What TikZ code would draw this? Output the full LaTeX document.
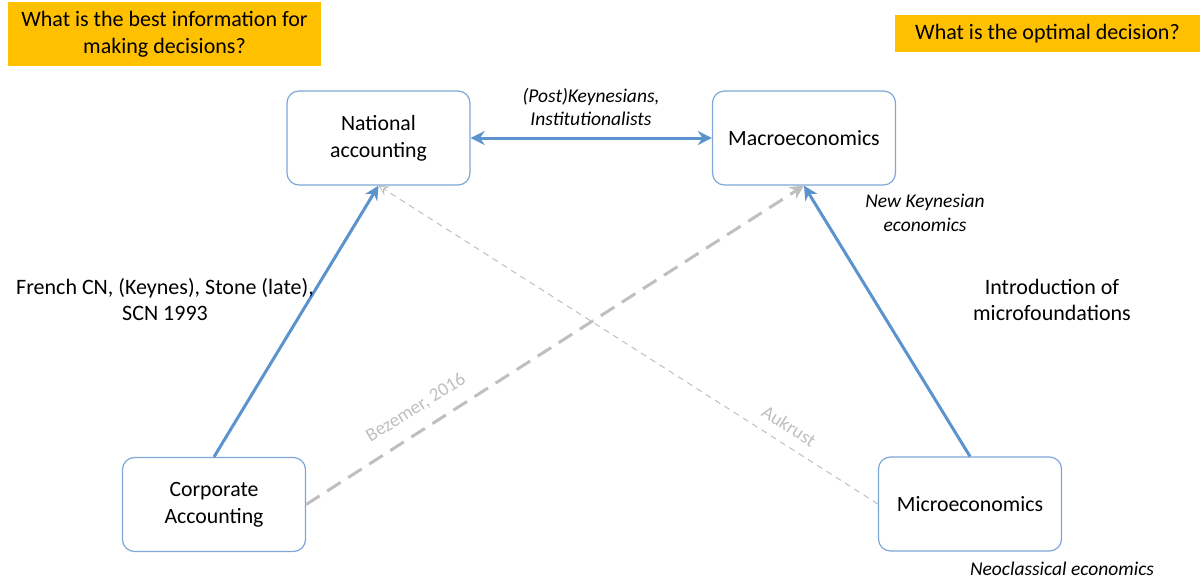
\documentclass[tikz,border=0pt]{standalone}
\usepackage{fontspec}
\setmainfont{Carlito}
\usetikzlibrary{arrows.meta}
\definecolor{gold}{HTML}{FFC000}
\definecolor{boxblue}{HTML}{7EA6D8}
\definecolor{lineblue}{HTML}{5B93CD}
\definecolor{lgray}{HTML}{BFBFBF}
\begin{document}
\begin{tikzpicture}[x=1pt,y=-1pt,
  box/.style={draw=boxblue,line width=1.2pt,rounded corners=12pt,fill=white,minimum width=183pt,minimum height=94pt,align=center,font=\fontsize{21.8}{27}\selectfont},
  q/.style={fill=gold,align=center,font=\fontsize{22}{27}\selectfont,inner sep=0pt},
  lab/.style={align=center,font=\fontsize{22}{26}\selectfont},
  ilab/.style={align=center,font=\fontsize{19.5}{23.5}\selectfont\itshape},
  glab/.style={text=lgray,font=\fontsize{19}{22}\selectfont,inner sep=1pt},
  barrow/.style={draw=lineblue,line width=3pt,-{Stealth[length=14pt,width=14pt]}},
]
\useasboundingbox (0,0) rectangle (1203,579);
\node[q,minimum width=313pt,minimum height=64pt] (q1) at (164.5,34) {What is the best information for\\making decisions?};
\node[q,minimum width=305pt,minimum height=37pt] (q2) at (1047.5,33.5) {What is the optimal decision?};
\node[box] (na) at (378.5,138) {National\\accounting};
\node[box] (ma) at (804,138) {Macroeconomics};
\node[box] (ca) at (214,504.5) {Corporate\\Accounting};
\node[box] (mi) at (970,504) {Microeconomics};
\draw[barrow,{Stealth[length=14pt,width=14pt]}-{Stealth[length=14pt,width=14pt]}] (na.east) -- (ma.west);
\draw[barrow] (ca.north) -- (na.south);
\draw[barrow] (mi.north) -- (ma.south);
\draw[draw=lgray,line width=3pt,dash pattern=on 16pt off 9pt,-{Stealth[length=14pt,width=14pt]}] (ca.east) -- (ma.south);
\draw[draw=lgray,line width=1pt,dash pattern=on 6pt off 5pt,-{Stealth[length=10pt,width=10pt,open]}] (mi.west) -- (na.south);
\node[ilab] (pk) at (591,107) {(Post)Keynesians,\\Institutionalists};
\node[ilab] (nk) at (925,213) {New Keynesian\\economics};
\node[lab] (fr) at (165,300) {French CN, (Keynes), Stone (late),\\SCN 1993};
\node[lab] (im) at (1052,300) {Introduction of\\microfoundations};
\node[ilab] (neo) at (1062,569) {Neoclassical economics};
\node[glab,rotate=32] (bz) at (416,408) {Bezemer, 2016};
\node[glab,rotate=-32.5] (au) at (789,426) {Aukrust};
\end{tikzpicture}
\end{document}
